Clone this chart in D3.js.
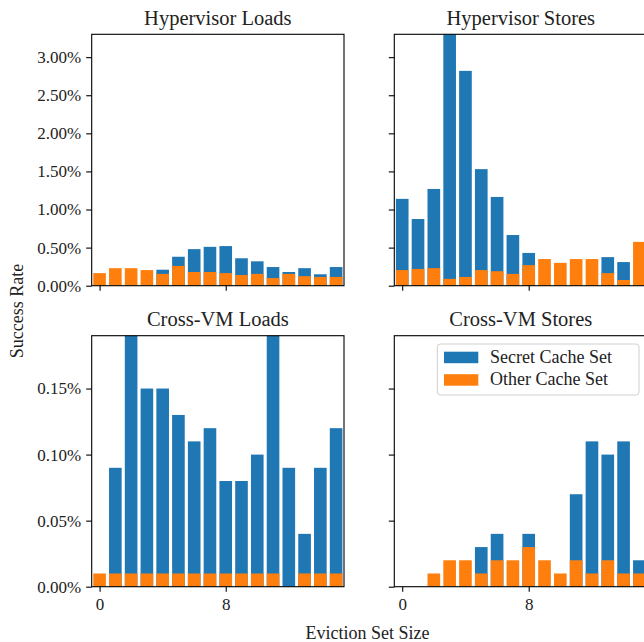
<!DOCTYPE html>
<html>
<head>
<meta charset="utf-8">
<script src="https://cdn.jsdelivr.net/npm/d3@7"></script>
<style>
  html, body { margin: 0; padding: 0; background: #fff; }
  svg { display: block; }
  text { font-family: "Liberation Serif", "DejaVu Serif", serif; fill: #222; }
</style>
</head>
<body>
<svg id="chart" width="644" height="642"></svg>
<script>
// Eviction set sizes on the x axis
const evictionSizes = [0, 1, 2, 3, 4, 5, 6, 7, 8, 9, 10, 11, 12, 13, 14, 15];
const xTickValues = [0, 8];

// Success rates in percent, per panel
const hvLoadsSecret  = [0, 0, 0, 0, 0.21, 0.38, 0.48, 0.51, 0.52, 0.36, 0.32, 0.245, 0.18, 0.23, 0.15, 0.245];
const hvLoadsOther   = [0.165, 0.23, 0.23, 0.205, 0.155, 0.26, 0.18, 0.18, 0.165, 0.14, 0.155, 0.10, 0.155, 0.125, 0.115, 0.115];
const hvStoresSecret = [1.14, 0.875, 1.27, 3.45, 2.82, 1.53, 1.165, 0.665, 0.43, 0, 0, 0, 0, 0.375, 0.31, 0];
const hvStoresOther  = [0.205, 0.22, 0.23, 0.09, 0.115, 0.205, 0.19, 0.155, 0.27, 0.35, 0.30, 0.35, 0.35, 0.165, 0.075, 0.575];
const vmLoadsSecret  = [0, 0.09, 0.20, 0.15, 0.15, 0.13, 0.11, 0.12, 0.08, 0.08, 0.10, 0.20, 0.09, 0.04, 0.09, 0.12];
const vmLoadsOther   = [0.01, 0.01, 0.01, 0.01, 0.01, 0.01, 0.01, 0.01, 0.01, 0.01, 0.01, 0.01, 0, 0.01, 0.01, 0.01];
const vmStoresSecret = [0, 0, 0, 0, 0, 0.03, 0.04, 0, 0.04, 0, 0, 0.07, 0.11, 0.10, 0.11, 0.02];
const vmStoresOther  = [0, 0, 0.01, 0.02, 0.02, 0.01, 0.02, 0.02, 0.03, 0.02, 0.01, 0.02, 0.01, 0.02, 0.01, 0.01];

// Y tick values (percent) per row
const topRowTicks = [0, 0.5, 1.0, 1.5, 2.0, 2.5, 3.0];
const bottomRowTicks = [0, 0.05, 0.10, 0.15];

const seriesNames = ["Secret Cache Set", "Other Cache Set"];
const seriesColors = ["#1f77b4", "#ff7f0e"];

const svg = d3.select("#chart");

// Panel geometry
const colX = [[91.7, 344.0], [394.3, 647.3]];
const rowY = [[34.3, 285.7], [335.7, 586.7]];
const rowDomains = [[0, 3.3], [0, 0.19]];
const rowTicks = [topRowTicks, bottomRowTicks];

const panels = [
  { title: "Hypervisor Loads",  row: 0, col: 0, secret: hvLoadsSecret,  other: hvLoadsOther },
  { title: "Hypervisor Stores", row: 0, col: 1, secret: hvStoresSecret, other: hvStoresOther },
  { title: "Cross-VM Loads",    row: 1, col: 0, secret: vmLoadsSecret,  other: vmLoadsOther },
  { title: "Cross-VM Stores",   row: 1, col: 1, secret: vmStoresSecret, other: vmStoresOther },
];

const tickFont = 17;
const labelFont = 18;
const titleFont = 20.5;

panels.forEach((p, idx) => {
  const [x0, x1] = colX[p.col];
  const [y0, y1] = rowY[p.row];
  const x = d3.scaleLinear().domain([-0.5, 15.5]).range([x0, x1]);
  const y = d3.scaleLinear().domain(rowDomains[p.row]).range([y1, y0]);
  const barW = x(0.8) - x(0);

  const clipId = "clip" + idx;
  svg.append("clipPath").attr("id", clipId)
    .append("rect").attr("x", x0).attr("y", y0).attr("width", x1 - x0).attr("height", y1 - y0);

  const g = svg.append("g");
  const bars = g.append("g").attr("clip-path", `url(#${clipId})`);

  // Secret bars first, other-set bars drawn over them
  [p.secret, p.other].forEach((vals, si) => {
    bars.selectAll(null)
      .data(evictionSizes.map((s, i) => ({ s, v: vals[i] })))
      .join("rect")
      .attr("x", d => x(d.s - 0.4))
      .attr("width", barW)
      .attr("y", d => y(d.v))
      .attr("height", d => y(0) - y(d.v))
      .attr("fill", seriesColors[si]);
  });

  // Axes
  const yAxis = d3.axisLeft(y).tickValues(rowTicks[p.row]).tickSize(5.5).tickPadding(5)
    .tickFormat(p.col === 0 ? (d => d.toFixed(2) + "%") : () => "");
  const yg = g.append("g").attr("transform", `translate(${x0},0)`).call(yAxis);

  const xAxis = d3.axisBottom(x).tickValues(xTickValues).tickSize(5).tickPadding(6)
    .tickFormat(p.row === 1 ? d3.format("d") : () => "");
  const xg = g.append("g").attr("transform", `translate(0,${y1})`).call(xAxis);

  [yg, xg].forEach(a => {
    a.select(".domain").remove();
    a.selectAll(".tick line").attr("stroke", "#000").attr("stroke-width", 1.1);
    a.selectAll(".tick text").attr("fill", "#222")
      .style("font-family", '"Liberation Serif", "DejaVu Serif", serif')
      .style("font-size", tickFont + "px");
  });

  // Frame
  g.append("rect").attr("x", x0).attr("y", y0).attr("width", x1 - x0).attr("height", y1 - y0)
    .attr("fill", "none").attr("stroke", "#000").attr("stroke-width", 1.1);

  // Title
  g.append("text").attr("x", (x0 + x1) / 2).attr("y", y0 - 9.5)
    .attr("text-anchor", "middle").style("font-size", titleFont + "px").text(p.title);

  // Legend on the Cross-VM Stores panel
  if (p.row === 1 && p.col === 1) {
    const lg = g.append("g");
    lg.append("rect").attr("x", 437.3).attr("y", 344).attr("width", 201.7).attr("height", 51)
      .attr("rx", 3).attr("fill", "#fff").attr("fill-opacity", 0.8)
      .attr("stroke", "#d0d0d0").attr("stroke-width", 1);
    seriesNames.forEach((name, i) => {
      const yy = 351.7 + i * 22.5;
      lg.append("rect").attr("x", 444).attr("y", yy).attr("width", 34.3).attr("height", 11.5)
        .attr("fill", seriesColors[i]);
      lg.append("text").attr("x", 490).attr("y", yy + 11)
        .style("font-size", labelFont + "px").text(name);
    });
  }
});

// Shared axis labels
svg.append("text").attr("x", 367.5).attr("y", 639).attr("text-anchor", "middle")
  .style("font-size", labelFont + "px").text("Eviction Set Size");
svg.append("text").attr("transform", "translate(22.5,311) rotate(-90)").attr("text-anchor", "middle")
  .style("font-size", labelFont + "px").text("Success Rate");
</script>
</body>
</html>
